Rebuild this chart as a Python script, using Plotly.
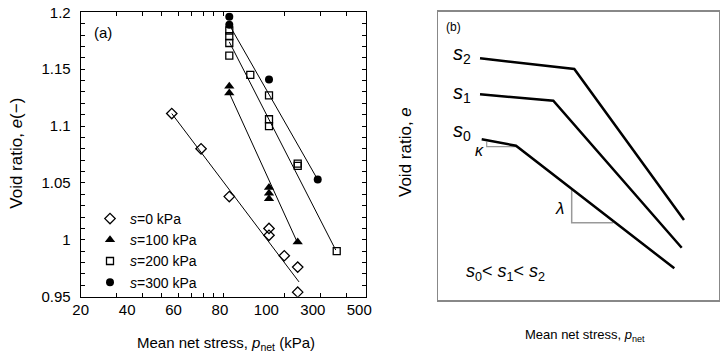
import plotly.graph_objects as go

# ---------------- Panel (a) data ----------------
s0_p = [55.9, 77.8, 107, 167.5, 167.5, 199, 231.6, 231.6]
s0_e = [1.111, 1.080, 1.038, 1.010, 1.004, 0.986, 0.976, 0.954]
s100_p = [107, 107, 167.5, 167.5, 167.5, 231.6]
s100_e = [1.135, 1.129, 1.046, 1.041, 1.036, 0.998]
s200_p = [107, 107, 107, 107, 135.6, 167.5, 167.5, 167.5, 231.6, 231.6, 359.7]
s200_e = [1.184, 1.179, 1.173, 1.162, 1.145, 1.127, 1.106, 1.100, 1.067, 1.065, 0.990]
s300_p = [107, 107, 167.5, 290.3]
s300_e = [1.196, 1.189, 1.141, 1.053]

# fitted lines (end points)
fit0_p, fit0_e = [55.9, 235], [1.111, 0.963]
fit100_p, fit100_e = [107, 229], [1.129, 0.999]
fit200_p, fit200_e = [107, 355.7], [1.174, 0.991]
fit300_p, fit300_e = [107, 290], [1.189, 1.053]

x_tick_text = ["20", "40", "60", "80", "100", "300", "500"]
x_tick_vals = [20, 33.8, 57.0, 96.3, 162.6, 274.6, 463.7]
x_tickmark_vals = [30, 40, 50, 60, 70, 80, 90, 100, 200, 300, 400]
y_tickmark_vals = [round(0.95 + 0.01 * i, 2) for i in range(26)]
y_label_vals = [0.95, 1.0, 1.05, 1.1, 1.15, 1.2]
y_label_text = ["0.95", "1", "1.05", "1.1", "1.15", "1.2"]

# ---------------- Panel (b) schematic data (normalised units) ----------------
b_s2_x, b_s2_y = [0.1486, 0.4845, 0.8753], [0.8384, 0.8012, 0.2775]
b_s1_x, b_s1_y = [0.1486, 0.4097, 0.8671], [0.7135, 0.6913, 0.1814]
b_s0_x, b_s0_y = [0.1546, 0.2768, 0.8408], [0.5574, 0.5352, 0.1100]
lam_x, lam_y = [0.4752, 0.4752, 0.6234], [0.3815, 0.2681, 0.2681]
kap_x, kap_y = [0.1724, 0.1724, 0.2793], [0.5491, 0.5317, 0.5317]

FONT = "Liberation Sans, Arial, Helvetica, sans-serif"

fig = go.Figure()

def fit_line(px_, ey):
    fig.add_trace(go.Scatter(x=px_, y=ey, mode="lines", line=dict(color="black", width=1),
                             showlegend=False, hoverinfo="skip", xaxis="x", yaxis="y"))

fit_line(fit0_p, fit0_e)
fit_line(fit100_p, fit100_e)
fit_line(fit200_p, fit200_e)
fit_line(fit300_p, fit300_e)

fig.add_trace(go.Scatter(x=s0_p, y=s0_e, mode="markers", name="<i>s</i>=0 kPa",
                         marker=dict(symbol="diamond-open", size=8, color="black", line=dict(width=1.3))))
fig.add_trace(go.Scatter(x=s100_p, y=s100_e, mode="markers", name="<i>s</i>=100 kPa",
                         marker=dict(symbol="triangle-up", size=9, color="black")))
fig.add_trace(go.Scatter(x=s200_p, y=s200_e, mode="markers", name="<i>s</i>=200 kPa",
                         marker=dict(symbol="square-open", size=7, color="black", line=dict(width=1.3))))
fig.add_trace(go.Scatter(x=s300_p, y=s300_e, mode="markers", name="<i>s</i>=300 kPa",
                         marker=dict(symbol="circle", size=8, color="black")))

def b_line(xs, ys, color="black", width=2.5):
    fig.add_trace(go.Scatter(x=xs, y=ys, mode="lines", line=dict(color=color, width=width),
                             showlegend=False, hoverinfo="skip", xaxis="x2", yaxis="y2"))

b_line(lam_x, lam_y, color="#999999", width=1.5)
b_line(kap_x, kap_y, color="#999999", width=1.2)
b_line(b_s2_x, b_s2_y)
b_line(b_s1_x, b_s1_y)
b_line(b_s0_x, b_s0_y)

W, H = 720, 354
def px(x):
    return x / W
def py(y):
    return (H - y) / H

y_ticktext = [y_label_text[y_label_vals.index(v)] if v in y_label_vals else "" for v in y_tickmark_vals]

fig.update_layout(
    template="none",
    width=W, height=H, autosize=False,
    margin=dict(l=0, r=0, t=0, b=0, pad=0),
    paper_bgcolor="white", plot_bgcolor="white",
    font=dict(family=FONT, size=15, color="black"),
    xaxis=dict(domain=[px(80.7), px(365.9)], type="log", range=[1.30103, 2.69897],
               automargin=False,
               tickmode="array", tickvals=x_tickmark_vals, ticktext=[""] * len(x_tickmark_vals),
               ticks="inside", ticklen=4, tickwidth=1, tickcolor="black",
               showline=True, linecolor="black", linewidth=1, mirror="ticks",
               showgrid=False, zeroline=False),
    xaxis3=dict(overlaying="x", anchor="y", type="log", range=[1.30103, 2.69897],
                automargin=False, side="bottom",
                tickmode="array", tickvals=x_tick_vals, ticktext=x_tick_text,
                ticks="", showline=False, showgrid=False, zeroline=False,
                ticklabelstandoff=2),
    yaxis=dict(domain=[py(296.7), py(12.3)], range=[0.95, 1.2],
               automargin=False,
               tickmode="array", tickvals=y_tickmark_vals, ticktext=y_ticktext,
               ticks="inside", ticklen=4, tickwidth=1, tickcolor="black", showline=True,
               linecolor="black", linewidth=1, mirror="ticks", showgrid=False,
               zeroline=False, ticklabelstandoff=6),
    xaxis2=dict(domain=[px(438.3), px(719)], range=[0, 1], showticklabels=False, ticks="",
                automargin=False,
                showline=True, linecolor="#888888", linewidth=1.5, mirror=True,
                showgrid=False, zeroline=False, anchor="y2"),
    yaxis2=dict(domain=[py(300), py(11.7)], range=[0, 1], showticklabels=False, ticks="",
                automargin=False,
                showline=True, linecolor="#888888", linewidth=1.5, mirror=True,
                showgrid=False, zeroline=False, anchor="x2"),
    legend=dict(x=px(90), y=py(203), xanchor="left", yanchor="top", bgcolor="rgba(0,0,0,0)",
                font=dict(size=14), itemwidth=30, tracegroupgap=0, borderwidth=0),
    showlegend=True,
)

# invisible helper trace so the label axis (x3) is drawn
fig.add_trace(go.Scatter(x=[], y=[], xaxis="x3", yaxis="y", showlegend=False, hoverinfo="skip"))

ann = [
    dict(text="Void ratio, <i>e</i>(−)", x=px(16.7), y=py(153), textangle=-90, font=dict(size=17)),
    dict(text="Mean net stress, <i>p</i><sub>net</sub> (kPa)", x=px(226), y=py(343), font=dict(size=15)),
    dict(text="(a)", x=px(103), y=py(33), font=dict(size=15)),
    dict(text="(b)", x=px(453), y=py(27), font=dict(size=12)),
    dict(text="Void ratio, <i>e</i>", x=px(405), y=py(152), textangle=-90, font=dict(size=17)),
    dict(text="Mean net stress, <i>p</i><sub>net</sub>", x=px(585), y=py(335), font=dict(size=13)),
]
for a in ann:
    fig.add_annotation(xref="paper", yref="paper", showarrow=False,
                       xanchor="center", yanchor="middle", **a)

ann_b = [
    dict(text="<i>s</i><sub>2</sub>", x=0.045, y=0.85),
    dict(text="<i>s</i><sub>1</sub>", x=0.045, y=0.717),
    dict(text="<i>s</i><sub>0</sub>", x=0.045, y=0.584),
]
for a in ann_b:
    fig.add_annotation(xref="x2", yref="y2", showarrow=False, xanchor="left", yanchor="middle",
                       font=dict(size=20), **a)
fig.add_annotation(xref="x2", yref="y2", showarrow=False, xanchor="left", yanchor="middle",
                   x=0.092, y=0.097,
                   text="<i>s</i><sub>0</sub>&lt; <i>s</i><sub>1</sub>&lt; <i>s</i><sub>2</sub>",
                   font=dict(size=18))
fig.add_annotation(xref="x2", yref="y2", showarrow=False, x=0.433, y=0.318,
                   text="<i>λ</i>", font=dict(size=17))
fig.add_annotation(xref="x2", yref="y2", showarrow=False, x=0.145, y=0.52,
                   text="<i>κ</i>", font=dict(size=16))

fig.write_html("out.html", config={"displayModeBar": False, "staticPlot": True},
               post_script="document.body.style.margin='0px';document.body.style.overflow='hidden';")
